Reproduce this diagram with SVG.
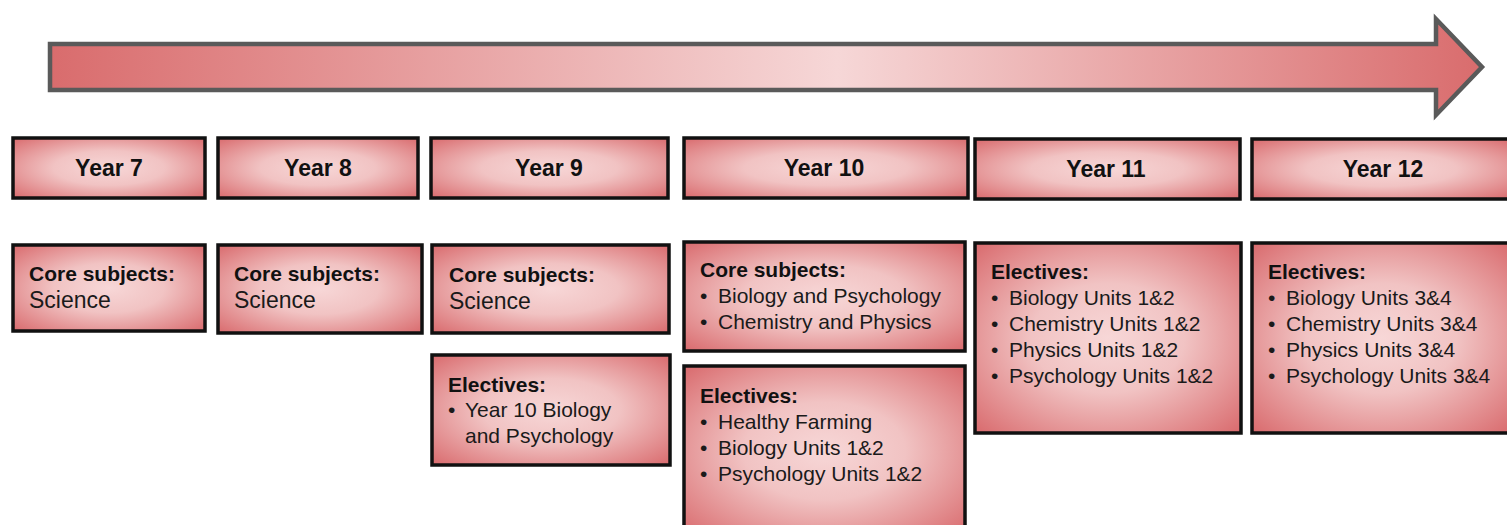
<svg xmlns="http://www.w3.org/2000/svg" width="1507" height="525" viewBox="0 0 1507 525">
<defs>
<linearGradient id="arrowGrad" x1="0" y1="0" x2="1" y2="0">
<stop offset="0" stop-color="#d96c6d"/>
<stop offset="0.55" stop-color="#f6d7d7"/>
<stop offset="1" stop-color="#d96c6d"/>
</linearGradient>
<radialGradient id="boxGrad" cx="0.5" cy="0.5" r="0.72">
<stop offset="0" stop-color="#f7d7d7"/>
<stop offset="0.4" stop-color="#f1c3c3"/>
<stop offset="1" stop-color="#d8676a"/>
</radialGradient>
<style>
.box{fill:url(#boxGrad);stroke:#111;stroke-width:3.5}
.hdr{font-family:"Liberation Sans",Arial,sans-serif;font-weight:bold;font-size:23px;fill:#111;text-anchor:middle}
.b{font-family:"Liberation Sans",Arial,sans-serif;font-weight:bold;font-size:21px;fill:#111}
.t{font-family:"Liberation Sans",Arial,sans-serif;font-size:21px;fill:#1a1a1a}
.sci{font-family:"Liberation Sans",Arial,sans-serif;font-size:23px;fill:#1a1a1a}
</style>
</defs>
<g id="timeline-arrow">
<polygon points="50,44 1436,44 1436,19 1482,67 1436,115 1436,90 50,90" fill="url(#arrowGrad)" stroke="#5a5a5a" stroke-width="4.5" stroke-linejoin="miter"/>
</g>
<g id="connectors"></g>
<g id="year7"><rect class="box" x="13" y="138" width="192" height="60"/><text class="hdr" x="109" y="176">Year 7</text></g>
<g id="year8"><rect class="box" x="218" y="138" width="200" height="60"/><text class="hdr" x="318" y="176">Year 8</text></g>
<g id="year9"><rect class="box" x="431" y="138" width="237" height="60"/><text class="hdr" x="549" y="176">Year 9</text></g>
<g id="year10"><rect class="box" x="684" y="138" width="284" height="60"/><text class="hdr" x="824" y="176">Year 10</text></g>
<g id="year11"><rect class="box" x="975" y="139" width="265" height="60"/><text class="hdr" x="1106" y="177">Year 11</text></g>
<g id="year12"><rect class="box" x="1252" y="139" width="260" height="60"/><text class="hdr" x="1383" y="177">Year 12</text></g>

<g id="y7-core"><rect class="box" x="13" y="245" width="192" height="86"/>
<text class="b" x="29" y="281">Core subjects:</text><text class="sci" x="29" y="308">Science</text></g>
<g id="y8-core"><rect class="box" x="218" y="245" width="204" height="88"/>
<text class="b" x="234" y="281">Core subjects:</text><text class="sci" x="234" y="308">Science</text></g>
<g id="y9-core"><rect class="box" x="432" y="245" width="237" height="88"/>
<text class="b" x="449" y="282">Core subjects:</text><text class="sci" x="449" y="309">Science</text></g>
<g id="y9-electives"><rect class="box" x="432" y="355" width="238" height="110"/>
<text class="b" x="448" y="392">Electives:</text>
<text class="t" x="448" y="417">•</text><text class="t" x="465" y="417">Year 10 Biology</text>
<text class="t" x="465" y="443">and Psychology</text></g>
<g id="y10-core"><rect class="box" x="684" y="242" width="281" height="109"/>
<text class="b" x="700" y="277">Core subjects:</text>
<text class="t" x="700" y="303">•</text><text class="t" x="718" y="303">Biology and Psychology</text>
<text class="t" x="700" y="329">•</text><text class="t" x="718" y="329">Chemistry and Physics</text></g>
<g id="y10-electives"><rect class="box" x="684" y="366" width="281" height="170"/>
<text class="b" x="700" y="403">Electives:</text>
<text class="t" x="700" y="429">•</text><text class="t" x="718" y="429">Healthy Farming</text>
<text class="t" x="700" y="455">•</text><text class="t" x="718" y="455">Biology Units 1&amp;2</text>
<text class="t" x="700" y="481">•</text><text class="t" x="718" y="481">Psychology Units 1&amp;2</text></g>
<g id="y11-electives"><rect class="box" x="975" y="243" width="266" height="190"/>
<text class="b" x="991" y="279">Electives:</text>
<text class="t" x="991" y="305">•</text><text class="t" x="1009" y="305">Biology Units 1&amp;2</text>
<text class="t" x="991" y="331">•</text><text class="t" x="1009" y="331">Chemistry Units 1&amp;2</text>
<text class="t" x="991" y="357">•</text><text class="t" x="1009" y="357">Physics Units 1&amp;2</text>
<text class="t" x="991" y="383">•</text><text class="t" x="1009" y="383">Psychology Units 1&amp;2</text></g>
<g id="y12-electives"><rect class="box" x="1252" y="243" width="260" height="190"/>
<text class="b" x="1268" y="279">Electives:</text>
<text class="t" x="1268" y="305">•</text><text class="t" x="1286" y="305">Biology Units 3&amp;4</text>
<text class="t" x="1268" y="331">•</text><text class="t" x="1286" y="331">Chemistry Units 3&amp;4</text>
<text class="t" x="1268" y="357">•</text><text class="t" x="1286" y="357">Physics Units 3&amp;4</text>
<text class="t" x="1268" y="383">•</text><text class="t" x="1286" y="383">Psychology Units 3&amp;4</text></g>
</svg>
